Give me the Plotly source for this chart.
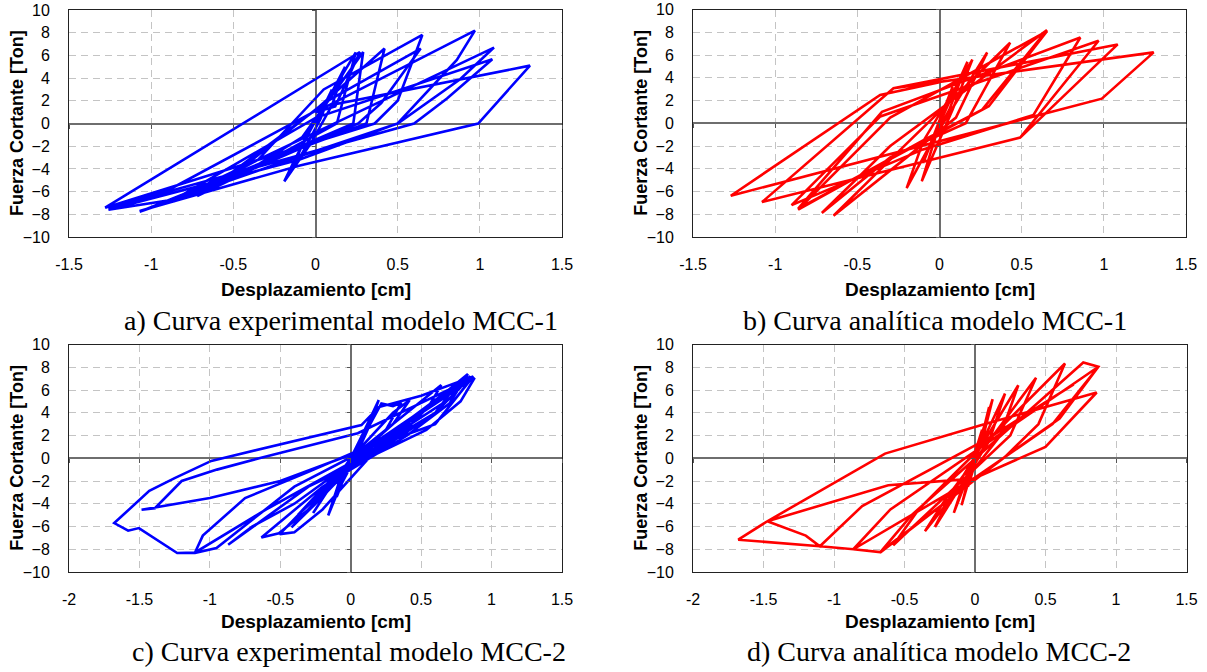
import plotly.graph_objects as go

# ---------------- data ----------------
# a) experimental MCC-1
xa = [0.00, 0.10, 0.03, -0.08, -0.15, -0.06, 0.08, 0.18, 0.10, -0.03, -0.19, -0.12, 0.02,
      0.245, 0.13, -0.20, -0.72, -0.45, -0.08, 0.29, 0.23, -0.35, -0.86, -0.60, 0.00,
      0.42, 0.31, -0.30, -0.86, -0.55, 0.05, 0.64, 0.40, 0.26, -0.25, -0.72, -0.35, 0.05,
      0.65, 0.50, 0.36, -0.30, -1.28, 0.27, 0.12, 0.00, 0.97, 0.86, 0.50, -0.10, -1.26,
      -0.86, 1.086, 0.88, 0.50, -0.20, -1.07, -0.80, 0.00, 1.076, 0.80, 0.60, -0.10,
      -1.26, -0.90, 0.05, 1.305, 0.99, -0.095, -1.07, -0.86, -0.70]
ya = [0.00, 3.00, 0.40, -2.60, -4.20, -1.20, 2.20, 5.00, 1.60, -1.80, -5.10, -3.00, 0.80,
      6.27, 0.00, -2.60, -6.40, -4.50, -1.20, 6.30, 0.00, -3.60, -6.86, -5.30, 1.20,
      6.60, 0.00, -3.30, -6.60, -5.10, 1.80, 6.60, 1.80, 0.00, -3.20, -6.10, -3.20, 3.00,
      7.80, 2.00, 0.00, -3.00, -7.42, 6.30, 1.50, 1.00, 8.18, 5.60, 0.00, -3.20, -7.60,
      -6.70, 6.69, 3.90, 0.00, -3.40, -7.77, -6.20, 0.50, 5.66, 2.20, 0.00, -2.80,
      -7.45, -5.90, 1.50, 5.10, 0.00, -3.70, -7.70, -6.80, -5.50]

# b) analytical MCC-1
xb = [0.00, 0.08, 0.02, -0.10, -0.03, 0.17, 0.06, -0.20, -0.10, 0.20, 0.08, -0.108, -0.02,
      0.29, 0.10, -0.20, -0.645, -0.25, 0.43, 0.16, -0.30, -0.716, -0.30, 0.654, 0.26,
      -0.10, -0.86, -0.30, 0.654, 0.30, -0.86, -0.35, 0.857, 0.572, -0.10, -0.90, -0.36,
      0.968, 0.491, -1.08, -0.28, 1.084, 0.491, -1.08, -0.28, 1.303, 0.988, -1.27,
      -0.361, 0.00]
yb = [0.00, 3.20, 1.00, -3.50, -1.00, 5.40, 1.20, -5.70, -1.60, 5.60, 1.20, -5.10, -1.00,
      6.23, 0.50, -3.00, -8.13, -2.50, 7.08, 0.00, -3.00, -7.89, -2.00, 8.19, 1.20,
      -1.50, -7.60, 0.50, 8.10, 1.50, -7.50, 1.00, 7.54, 0.73, -2.30, -7.20, 0.60,
      7.25, -1.26, -6.93, 3.07, 6.93, -1.26, -6.93, 3.07, 6.23, 2.16, -6.37,
      2.49, 3.60]

# c) experimental MCC-2
xc = [0.00, 0.06, 0.12, 0.04, -0.05, -0.10, -0.03, 0.08, 0.199, 0.12, 0.03, -0.08, -0.16,
      -0.08, 0.05, 0.218, 0.30, 0.36, 0.25, 0.08, -0.12, -0.267, -0.15, 0.00, 0.30, 0.419,
      0.30, 0.12, -0.15, -0.374, -0.20, 0.05, 0.643, 0.55, 0.35, 0.00, -0.42, -0.25, 0.10,
      0.76, 0.60, 0.30, -0.10, -0.504, -0.40, -0.20, 0.20, 0.832, 0.70, 0.40, -0.20,
      -0.634, -0.51, -0.30, 0.20, 0.88, 0.78, 0.537, 0.20, -0.30, -0.87, -0.70, -0.40,
      0.10, 0.85, 0.70, 0.30, -0.40, -0.953, -1.107, -1.05, -0.75, -0.30, 0.15, 0.85,
      0.60, 0.10, -0.60, -1.107, -1.232, -1.504, -1.58, -1.679,
      -1.43, -1.25, -0.99, 0.076, 0.20, 0.50, 0.87, 0.60, 0.00, -0.50, -1.00, -1.485,
      -1.39, -1.20, -0.95, -0.65, 0.05, 0.86]
yc = [0.00, 1.50, 3.00, 0.40, -1.80, -3.40, -0.80, 2.00, 5.12, 2.50, 0.00, -2.60, -5.03,
      -2.00, 1.00, 4.82, 4.59, 4.90, 2.50, 0.50, -2.00, -4.82, -2.60, 0.00, 4.00, 5.12,
      3.00, 1.00, -2.00, -4.97, -3.00, 0.50, 6.43, 4.50, 2.00, -0.50, -6.08, -4.00, 0.50,
      6.60, 4.00, 1.50, -1.50, -6.67, -6.50, -4.50, 1.00, 7.40, 4.80, 2.00, -2.50,
      -6.96, -6.60, -4.50, 1.50, 7.08, 5.00, 2.49, 0.50, -2.50, -7.60, -6.00, -4.00,
      0.50, 7.20, 5.20, 2.00, -2.50, -7.89, -8.33, -6.80, -3.50, -1.20, 1.20, 7.10,
      4.00, 0.30, -4.50, -8.30, -8.33, -6.14, -6.37, -5.70,
      -2.87, -1.75, -0.23, 2.92, 4.50, 5.50, 7.20, 3.00, 0.30, -2.00, -3.50, -4.53,
      -4.39, -2.00, -1.00, 0.00, 2.20, 7.00]

# d) analytical MCC-2
xd = [0.00, 0.05, 0.00, -0.05, 0.00, 0.10, 0.04, -0.095, -0.03, 0.125, 0.06, -0.15, -0.07,
      0.213, 0.10, -0.284, -0.18, 0.307, 0.18, -0.355, -0.22, 0.433, 0.25, -0.58, -0.40,
      0.638, 0.45, 0.213, -0.58, -0.674, -0.45, 0.768, 0.875, 0.60, 0.213, -0.674,
      -0.863, -0.60, 0.875, 0.55, -0.01, -0.863, -1.10, -1.679, -1.473, -0.83, -0.638,
      0.059, 0.863, 0.50, -0.01, -0.615, -1.473, -1.20, -1.10, -0.80, 0.10, 0.70]
yd = [0.00, 2.50, 0.50, -2.50, -0.50, 4.50, 1.50, -4.13, -1.00, 5.19, 2.00, -4.80, -1.80,
      5.69, 1.50, -6.04, -3.50, 6.42, 2.00, -6.42, -3.80, 7.07, 2.00, -7.65, -4.50,
      8.33, 3.00, 0.12, -7.40, -8.30, -5.00, 8.42, 8.04, 3.50, 0.12, -8.25,
      -8.00, -4.50, 8.04, 3.00, -1.79, -8.00, -7.74, -7.16, -5.54, -0.91, 0.41,
      2.96, 5.78, 1.00, -1.79, -2.37, -5.54, -6.80, -7.74, -4.20, 1.80, 6.50]

x_ranges = [[-1.5, 1.5], [-1.5, 1.5], [-2, 1.5], [-2, 1.5]]
x_ticks = [[-1.5, -1, -0.5, 0, 0.5, 1, 1.5], [-1.5, -1, -0.5, 0, 0.5, 1, 1.5],
           [-2, -1.5, -1, -0.5, 0, 0.5, 1, 1.5], [-2, -1.5, -1, -0.5, 0, 0.5, 1, 1.5]]
y_ticks = [-10, -8, -6, -4, -2, 0, 2, 4, 6, 8, 10]
captions = ["a) Curva experimental modelo MCC-1", "b) Curva analítica modelo MCC-1",
            "c) Curva experimental modelo MCC-2", "d) Curva analítica modelo MCC-2"]
x_title = "Desplazamiento [cm]"
y_title = "Fuerza Cortante [Ton]"
series = [(xa, ya, "#0000FF"), (xb, yb, "#FF0000"), (xc, yc, "#0000FF"), (xd, yd, "#FF0000")]

# ---------------- layout geometry (pixels) ----------------
W, H = 1207, 672
boxes = [(69, 562, 10, 237), (693, 1186, 9.5, 237), (69, 562, 344.5, 572), (693, 1186.5, 344.5, 572)]
caption_pos = [(341, 320), (935, 320), (349, 651), (939, 651)]

fig = go.Figure()
layout = dict(template="none", width=W, height=H, autosize=False,
              margin=dict(l=0, r=0, t=0, b=0, pad=0),
              paper_bgcolor="white", plot_bgcolor="white", showlegend=False)
annotations = []
sans = "Liberation Sans, Arial, sans-serif"
serif = "Liberation Serif, Times New Roman, serif"

for i, ((x, y, col), box, xr, xt) in enumerate(zip(series, boxes, x_ranges, x_ticks)):
    n = i + 1
    L, R, T, B = box
    xd0, xd1 = L / W, R / W
    yd0, yd1 = 1 - B / H, 1 - T / H
    xs = "" if n == 1 else str(n)
    fig.add_trace(go.Scatter(x=x, y=y, mode="lines", line=dict(color=col, width=2.6),
                             xaxis="x" + xs, yaxis="y" + xs, hoverinfo="skip"))
    layout["xaxis" + xs] = dict(domain=[xd0, xd1], range=xr, anchor="y" + xs, tickvals=xt,
                                ticktext=[f"{v:g}" for v in xt], showgrid=True,
                                gridcolor="#C4C4C4", griddash="7px,5px", gridwidth=1,
                                zeroline=True, zerolinecolor="#6E6E6E", zerolinewidth=1.8,
                                showline=True, linecolor="#222222", linewidth=1, mirror=True,
                                ticks="", ticklabelstandoff=13, automargin=False,
                                tickfont=dict(family=sans, size=16, color="black"))
    layout["yaxis" + xs] = dict(domain=[yd0, yd1], range=[-10, 10], anchor="x" + xs,
                                tickvals=y_ticks, showgrid=True, gridcolor="#C4C4C4",
                                griddash="7px,5px", gridwidth=1, zeroline=True,
                                zerolinecolor="#6E6E6E", zerolinewidth=1.8, showline=True,
                                linecolor="#222222", linewidth=1, mirror=True, ticks="",
                                ticklabelstandoff=15, automargin=False,
                                tickfont=dict(family=sans, size=16, color="black"))
    # overlay axes carrying the small tick marks on the zero lines
    m = n + 4
    zx = xd0 + (xd1 - xd0) * (0 - xr[0]) / (xr[1] - xr[0])
    zy = yd0 + (yd1 - yd0) * 0.5
    fig.add_trace(go.Scatter(x=[], y=[], xaxis=f"x{m}", yaxis=f"y{m}", hoverinfo="skip"))
    layout[f"xaxis{m}"] = dict(overlaying="x" + xs, anchor="free", position=zy, range=xr,
                               tickvals=xt, ticks="outside", ticklen=4, tickcolor="#555555",
                               showticklabels=False, showgrid=False, zeroline=False,
                               showline=False, automargin=False)
    layout[f"yaxis{m}"] = dict(overlaying="y" + xs, anchor="free", position=zx,
                               range=[-10, 10], tickvals=y_ticks, ticks="outside", ticklen=4,
                               tickcolor="#555555", showticklabels=False, showgrid=False,
                               zeroline=False, showline=False, automargin=False)
    # titles and captions
    annotations.append(dict(text=f"<b>{x_title}</b>", x=(L + R) / 2 / W, y=1 - (289 if n <= 2 else 621) / H,
                            xref="paper", yref="paper", showarrow=False, xanchor="center",
                            yanchor="middle", font=dict(family=sans, size=19, color="black")))
    annotations.append(dict(text=f"<b>{y_title}</b>", x=(L - 51.5) / W, y=1 - (T + B) / 2 / H,
                            xref="paper", yref="paper", showarrow=False, textangle=-90,
                            xanchor="center", yanchor="middle",
                            font=dict(family=sans, size=18, color="black")))
    cx, cy = caption_pos[i]
    annotations.append(dict(text=captions[i], x=cx / W, y=1 - cy / H, xref="paper",
                            yref="paper", showarrow=False, xanchor="center", yanchor="middle",
                            font=dict(family=serif, size=28, color="black")))

layout["annotations"] = annotations
fig.update_layout(**layout)
fig.write_html("out.html", config={"displayModeBar": False},
               post_script="document.body.style.margin='0px';document.body.style.overflow='hidden';")
